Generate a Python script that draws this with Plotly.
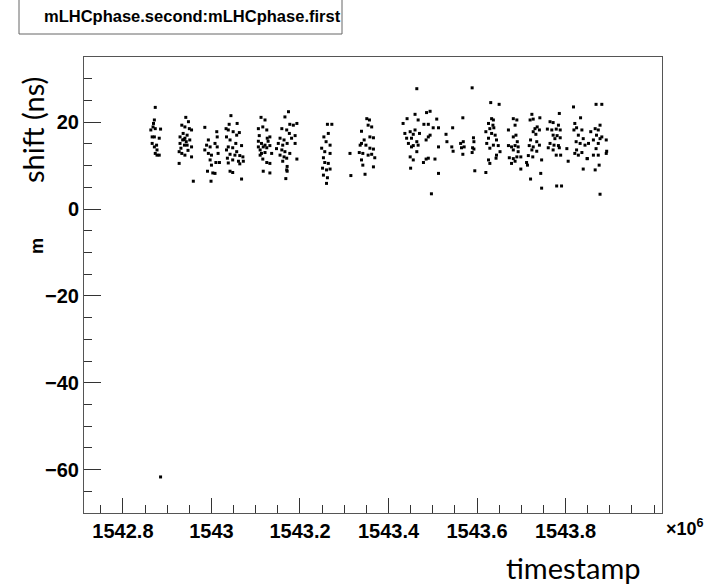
import plotly.graph_objects as go

# timestamp in units of 1e6 s, shift in ns
timestamp = [
    1542.873, 1542.871, 1542.869, 1542.868, 1542.873, 1542.863, 1542.885, 1542.866, 1542.871, 1542.882,
    1542.866, 1542.876, 1542.871, 1542.877, 1542.873, 1542.877, 1542.882,
    1542.885,
    1542.942, 1542.948, 1542.933, 1542.940, 1542.950, 1542.955, 1542.936, 1542.929, 1542.945, 1542.940,
    1542.935, 1542.951, 1542.929, 1542.939, 1542.945, 1542.955, 1542.927, 1542.933, 1542.940, 1542.955,
    1542.927, 1542.938, 1542.943, 1542.947, 1542.931,
    1542.985, 1543.012, 1543.013, 1542.993, 1543.008, 1542.989, 1542.997, 1542.985, 1543.013, 1542.993,
    1543.000, 1543.015, 1542.997, 1543.010, 1543.018, 1543.000, 1542.991, 1543.003, 1543.008, 1542.999,
    1542.959,
    1543.044, 1543.040, 1543.058, 1543.033, 1543.038, 1543.049, 1543.063, 1543.057, 1543.034, 1543.042,
    1543.055, 1543.068, 1543.038, 1543.048, 1543.034, 1543.057, 1543.042, 1543.053, 1543.064, 1543.071,
    1543.036, 1543.048, 1543.061, 1543.072, 1543.038, 1543.064, 1543.042, 1543.048, 1543.068,
    1543.112, 1543.121, 1543.106, 1543.116, 1543.125, 1543.108, 1543.126, 1543.132, 1543.106, 1543.113,
    1543.121, 1543.128, 1543.106, 1543.117, 1543.125, 1543.132, 1543.110, 1543.113, 1543.121, 1543.136,
    1543.110, 1543.116, 1543.125, 1543.132, 1543.117, 1543.132,
    1543.174, 1543.166, 1543.177, 1543.193, 1543.185, 1543.159, 1543.170, 1543.176, 1543.189, 1543.155,
    1543.164, 1543.181, 1543.151, 1543.161, 1543.171, 1543.189, 1543.147, 1543.159, 1543.166, 1543.177,
    1543.155, 1543.164, 1543.170, 1543.193, 1543.161, 1543.171, 1543.170, 1543.171, 1543.168,
    1543.262, 1543.272, 1543.254, 1543.264, 1543.259, 1543.268, 1543.249, 1543.256, 1543.268, 1543.253,
    1543.256, 1543.264, 1543.251, 1543.260, 1543.268, 1543.253, 1543.262, 1543.260,
    1543.313, 1543.315, 1543.339, 1543.351, 1543.357, 1543.354, 1543.362, 1543.366, 1543.358, 1543.345,
    1543.339, 1543.336, 1543.349, 1543.358, 1543.366, 1543.334, 1543.342, 1543.354, 1543.362, 1543.369,
    1543.339, 1543.342, 1543.366, 1543.347,
    1543.464, 1543.433, 1543.442, 1543.460, 1543.467, 1543.486, 1543.494, 1543.509, 1543.480, 1543.490,
    1543.501, 1543.513, 1543.437, 1543.449, 1543.460, 1543.456, 1543.470, 1543.441, 1543.452, 1543.445,
    1543.464, 1543.485, 1543.494, 1543.490, 1543.452, 1543.456, 1543.467, 1543.513, 1543.464, 1543.449,
    1543.456, 1543.485, 1543.490, 1543.479, 1543.505, 1543.450, 1543.513, 1543.497,
    1543.530, 1543.545, 1543.532, 1543.543, 1543.546, 1543.568, 1543.563, 1543.569, 1543.565, 1543.571,
    1543.568, 1543.592, 1543.593, 1543.590, 1543.593, 1543.589, 1543.595, 1543.589,
    1543.631, 1543.650, 1543.633, 1543.637, 1543.626, 1543.636, 1543.629, 1543.638, 1543.620, 1543.633,
    1543.641, 1543.626, 1543.644, 1543.622, 1543.637, 1543.648, 1543.629, 1543.652, 1543.626, 1543.629,
    1543.644, 1543.643, 1543.620,
    1543.682, 1543.690, 1543.686, 1543.671, 1543.688, 1543.682, 1543.691, 1543.671, 1543.678, 1543.686,
    1543.693, 1543.682, 1543.693, 1543.673, 1543.682, 1543.690, 1543.699, 1543.678, 1543.699, 1543.686,
    1543.724, 1543.742, 1543.720, 1543.727, 1543.731, 1543.736, 1543.727, 1543.741, 1543.733, 1543.721,
    1543.735, 1543.718, 1543.727, 1543.741, 1543.724, 1543.735, 1543.716, 1543.726, 1543.746, 1543.714,
    1543.712, 1543.721, 1543.744, 1543.746,
    1543.786, 1543.765, 1543.772, 1543.784, 1543.759, 1543.769, 1543.779, 1543.788, 1543.772, 1543.781,
    1543.776, 1543.788, 1543.765, 1543.774, 1543.784, 1543.761, 1543.772, 1543.786, 1543.779, 1543.789,
    1543.780, 1543.791,
    1543.818, 1543.834, 1543.821, 1543.825, 1543.819, 1543.837, 1543.829, 1543.840, 1543.824, 1543.833,
    1543.844, 1543.825, 1543.837, 1543.829, 1543.803, 1543.806, 1543.821, 1543.849, 1543.840,
    1543.869, 1543.882, 1543.878, 1543.867, 1543.874, 1543.857, 1543.870, 1543.882, 1543.863, 1543.878,
    1543.852, 1543.874, 1543.892, 1543.869, 1543.863, 1543.874, 1543.893, 1543.892, 1543.849, 1543.876,
    1543.867, 1543.878,
]

shift = [
    23.4, 20.5, 19.7, 18.9, 18.5, 18.2, 18.4, 16.6, 16.6, 16.3,
    15.1, 14.7, 14.3, 13.6, 12.8, 12.4, 12.4,
    -61.7,
    21.1, 20.1, 19.3, 18.9, 18.5, 18.2, 17.4, 16.6, 17.0, 16.3,
    15.9, 15.9, 15.1, 14.7, 14.7, 14.3, 13.2, 12.8, 12.4, 12.0,
    10.5, 16.0, 15.5, 13.5, 14.0,
    18.8, 17.8, 16.6, 15.9, 15.1, 14.7, 14.3, 13.6, 14.3, 12.8,
    12.4, 12.8, 11.3, 10.7, 10.7, 10.1, 8.7, 8.3, 8.2, 6.4,
    6.4,
    21.5, 19.5, 19.7, 18.5, 18.2, 17.8, 17.6, 17.0, 16.6, 15.9,
    15.1, 14.6, 14.3, 14.1, 13.6, 13.2, 12.6, 12.4, 12.3, 12.0,
    11.7, 11.3, 11.0, 11.0, 10.6, 10.4, 8.7, 8.4, 6.9,
    21.1, 20.5, 18.5, 18.9, 18.2, 16.9, 16.3, 16.6, 15.6, 15.1,
    14.7, 15.6, 14.3, 14.3, 14.1, 14.6, 13.6, 12.8, 13.0, 12.8,
    12.4, 11.5, 10.7, 10.5, 8.7, 8.3,
    22.4, 21.2, 19.5, 19.7, 19.3, 18.5, 18.2, 17.4, 16.9, 16.3,
    15.9, 16.3, 15.1, 14.7, 15.1, 15.1, 13.9, 13.6, 13.2, 12.8,
    12.4, 12.0, 11.7, 11.5, 11.0, 9.8, 9.0, 8.7, 7.0,
    19.5, 19.5, 16.6, 17.4, 15.5, 14.7, 14.0, 13.2, 12.8, 11.8,
    10.7, 10.5, 9.4, 9.0, 9.2, 7.8, 7.2, 5.9,
    12.8, 7.7, 17.9, 20.8, 20.5, 19.3, 18.9, 16.4, 16.6, 15.9,
    15.1, 14.7, 14.7, 14.0, 13.8, 13.0, 12.8, 12.4, 12.6, 11.8,
    11.3, 10.1, 9.7, 8.0,
    27.7, 19.7, 20.8, 21.8, 20.5, 22.2, 22.5, 20.7, 19.5, 19.5,
    18.7, 18.7, 17.4, 17.8, 18.2, 17.2, 17.4, 16.3, 16.3, 15.1,
    15.5, 15.9, 17.0, 16.6, 14.3, 14.6, 14.7, 14.3, 13.2, 12.0,
    11.3, 11.5, 11.7, 10.7, 11.5, 9.4, 8.2, 3.5,
    17.2, 18.7, 15.5, 14.3, 13.3, 21.0, 15.1, 15.5, 14.1, 14.3,
    12.6, 16.4, 15.5, 14.1, 13.8, 13.0, 8.8, 27.9,
    24.5, 24.1, 20.8, 20.5, 19.7, 19.3, 18.5, 18.7, 17.8, 17.4,
    17.0, 16.3, 15.9, 15.1, 14.7, 14.6, 14.0, 13.2, 11.3, 10.5,
    12.4, 11.7, 8.4,
    20.8, 20.5, 19.3, 18.2, 17.0, 16.6, 15.5, 14.6, 14.3, 14.6,
    14.3, 13.6, 13.2, 11.8, 11.6, 12.0, 12.0, 10.5, 9.2, 11.0,
    21.8, 21.0, 20.5, 20.7, 18.5, 18.9, 17.8, 18.2, 17.2, 15.9,
    15.5, 14.6, 14.3, 14.7, 13.6, 13.3, 12.3, 12.0, 11.3, 10.1,
    10.7, 6.9, 8.2, 4.8,
    22.0, 20.1, 19.9, 19.3, 18.4, 18.2, 18.4, 18.2, 17.0, 16.9,
    16.2, 16.4, 15.1, 14.7, 14.6, 14.1, 13.6, 14.1, 12.4, 12.4,
    5.3, 5.3,
    23.5, 21.0, 19.7, 18.7, 18.2, 18.2, 17.0, 16.2, 15.5, 15.1,
    14.7, 13.6, 13.0, 12.4, 13.9, 11.0, 12.8, 11.6, 9.2,
    24.1, 24.1, 19.3, 18.5, 18.2, 17.8, 17.0, 16.6, 15.9, 16.2,
    15.1, 15.1, 15.9, 13.9, 12.4, 12.4, 13.3, 12.8, 11.6, 10.1,
    9.0, 3.4,
]

x_tick_values = [1542.8, 1543.0, 1543.2, 1543.4, 1543.6, 1543.8]
x_tick_labels = ["1542.8", "1543", "1543.2", "1543.4", "1543.6", "1543.8"]
y_tick_values = [-60, -40, -20, 0, 20]
y_tick_labels = ["\u221260", "\u221240", "\u221220", "0", "20"]

title_text = "mLHCphase.second:mLHCphase.first"
x_label = "timestamp"
y_label_ppt = "shift (ns)"
y_label_root = "m"
x_exponent = "×10<sup>6</sup>"

W, H = 711, 584
L, R, T, B = 84, 662, 57, 513

def px(x):
    return (x - L) / (R - L)

def py(y):
    return (B - y) / (B - T)

fig = go.Figure(
    go.Scatter(
        x=timestamp, y=shift, mode="markers",
        marker=dict(symbol="square", size=3, color="black", line=dict(width=0)),
        hoverinfo="skip",
    )
)

tickfont = dict(family="Liberation Sans, Arial, sans-serif", size=20, color="black", weight="bold")

fig.update_layout(
    width=W, height=H,
    margin=dict(l=L, r=W - R, t=T, b=H - B, autoexpand=False),
    paper_bgcolor="white", plot_bgcolor="white",
    showlegend=False,
    xaxis=dict(
        range=[1542.712, 1544.018], showgrid=False, zeroline=False, automargin=False,
        showline=True, mirror=True, linecolor="#555", linewidth=1,
        ticks="inside", ticklen=15, tickcolor="#333", tickwidth=1,
        tickmode="array", tickvals=x_tick_values, ticktext=x_tick_labels, tickfont=tickfont,
        minor=dict(ticks="inside", ticklen=8, dtick=0.05, tick0=1542.8, tickcolor="#333", showgrid=False),
    ),
    yaxis=dict(
        range=[-70, 35], showgrid=False, zeroline=False, automargin=False,
        showline=True, mirror=True, linecolor="#555", linewidth=1,
        ticks="inside", ticklen=17, tickcolor="#333", tickwidth=1,
        tickmode="array", tickvals=y_tick_values, ticktext=y_tick_labels, tickfont=tickfont,
        minor=dict(ticks="inside", ticklen=8, dtick=5, tick0=0, tickcolor="#333", showgrid=False),
    ),
    shapes=[
        dict(type="rect", xref="paper", yref="paper",
             x0=px(19), x1=px(342), y0=py(34), y1=py(-5),
             line=dict(color="#666", width=1), fillcolor="white", layer="above"),
    ],
    annotations=[
        dict(text=title_text, xref="paper", yref="paper", x=px(42), y=py(16),
             xanchor="left", yanchor="middle", showarrow=False,
             font=dict(family="Liberation Sans, Arial, sans-serif", size=16.5, color="black", weight="bold")),
        dict(text=y_label_ppt, xref="paper", yref="paper", x=px(32), y=py(130),
             xanchor="center", yanchor="middle", showarrow=False, textangle=-90,
             font=dict(family="Lato, Open Sans, sans-serif", size=29, color="black")),
        dict(text=y_label_root, xref="paper", yref="paper", x=px(37), y=py(246),
             xanchor="center", yanchor="middle", showarrow=False, textangle=-90,
             font=dict(family="Liberation Sans, Arial, sans-serif", size=18, color="black", weight="bold")),
        dict(text=x_label, xref="paper", yref="paper", x=px(573), y=py(567),
             xanchor="center", yanchor="middle", showarrow=False,
             font=dict(family="Lato, Open Sans, sans-serif", size=29, color="black")),
        dict(text=x_exponent, xref="paper", yref="paper", x=px(664), y=py(527),
             xanchor="left", yanchor="middle", showarrow=False,
             font=dict(family="Liberation Sans, Arial, sans-serif", size=18, color="black", weight="bold")),
    ],
)

fig.write_html(
    "out.html",
    config={"displayModeBar": False},
    post_script="document.body.style.margin='0';document.body.style.overflow='hidden';",
)
